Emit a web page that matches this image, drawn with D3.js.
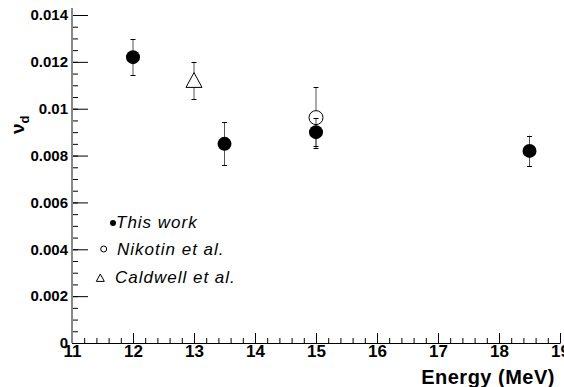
<!DOCTYPE html>
<html>
<head>
<meta charset="utf-8">
<script src="https://cdn.jsdelivr.net/npm/d3@7"></script>
<style>
  body { margin: 0; background: #fff; }
  svg { display: block; font-family: "Liberation Sans", Arial, Helvetica, sans-serif; }
  .tick text { fill: #000; font-weight: bold; }
</style>
</head>
<body>
<div id="chart"></div>
<script>
// data
var thisWorkE = [12, 13.5, 15, 18.5];
var thisWorkNu = [0.0122, 0.0085, 0.0090, 0.0082];
var thisWorkErr = [0.00076, 0.00092, 0.0006, 0.00065];

var nikotinE = [15];
var nikotinNu = [0.00962];
var nikotinErr = [0.0013];

var caldwellE = [13];
var caldwellNu = [0.0112];
var caldwellErr = [0.0008];

var xTicks = [11, 12, 13, 14, 15, 16, 17, 18, 19];
var yTicks = [0, 0.002, 0.004, 0.006, 0.008, 0.01, 0.012, 0.014];
var legendLabels = ['This work', 'Nikotin et al.', 'Caldwell et al.'];

var width = 564,
    height = 387;

var x = d3.scaleLinear().domain([11, 19]).range([72, 560]);
var y = d3.scaleLinear().domain([0, 0.014]).range([343, 15]);

var svg = d3.select('#chart').append('svg')
    .attr('width', width)
    .attr('height', height);

// minor ticks
var xMinor = d3.range(0, 41).map(function(i) { return 11 + i * 0.2; });
var yMinor = d3.range(0, 29).map(function(i) { return i * 0.0005; });

svg.append('g')
    .attr('transform', 'translate(0,' + y(0) + ')')
    .call(d3.axisBottom(x).tickValues(xMinor).tickSize(-5).tickSizeOuter(0).tickFormat(''))
    .call(function(g) { g.select('.domain').remove(); });

svg.append('g')
    .attr('transform', 'translate(' + x(11) + ',0)')
    .call(d3.axisLeft(y).tickValues(yMinor).tickSize(-6).tickSizeOuter(0).tickFormat(''))
    .call(function(g) { g.select('.domain').remove(); });

// x axis
var xAxis = svg.append('g')
    .attr('transform', 'translate(0,' + y(0) + ')')
    .call(d3.axisBottom(x).tickValues(xTicks).tickSize(-10).tickSizeOuter(0).tickPadding(2).tickFormat(d3.format('d')));
xAxis.select('.domain').attr('stroke', '#000').attr('stroke-width', 1.2);
xAxis.selectAll('.tick text').attr('font-size', 17).attr('y', 2).attr('dy', '0.71em');

// y axis
var yAxis = svg.append('g')
    .attr('transform', 'translate(' + x(11) + ',0)')
    .call(d3.axisLeft(y).tickValues(yTicks).tickSize(-16).tickSizeOuter(0).tickPadding(4)
        .tickFormat(function(d) { return d === 0 ? '0' : String(+d.toFixed(3)); }));
yAxis.select('.domain').remove();
yAxis.selectAll('.tick text').attr('font-size', 15);

svg.append('line')
    .attr('x1', x(11)).attr('x2', x(11))
    .attr('y1', y.range()[1] - 7).attr('y2', y(0))
    .attr('stroke', '#888').attr('stroke-width', 2);

// axis titles
svg.append('text')
    .attr('x', 555).attr('y', 384)
    .attr('text-anchor', 'end')
    .attr('font-size', 20)
    .attr('font-weight', 'bold')
    .attr('letter-spacing', 0.5)
    .text('Energy (MeV)');

var yTitle = svg.append('text')
    .attr('transform', 'translate(24,134) rotate(-90)')
    .attr('font-weight', 'bold');
yTitle.append('tspan').attr('font-size', 19).text('\u03bd');
yTitle.append('tspan').attr('font-size', 13).attr('dy', 5).text('d');

// data
function series(e, v, err) {
    return e.map(function(d, i) { return { e: d, v: v[i], err: err[i] }; });
}
var thisWork = series(thisWorkE, thisWorkNu, thisWorkErr);
var nikotin = series(nikotinE, nikotinNu, nikotinErr);
var caldwell = series(caldwellE, caldwellNu, caldwellErr);

function errorBars(data, gap) {
    var g = svg.append('g');
    g.selectAll('.up').data(data).enter().append('line')
        .attr('x1', function(d) { return x(d.e); })
        .attr('x2', function(d) { return x(d.e); })
        .attr('y1', function(d) { return y(d.v + d.err); })
        .attr('y2', function(d) { return y(d.v) - gap; })
        .attr('stroke', '#555');
    g.selectAll('.down').data(data).enter().append('line')
        .attr('x1', function(d) { return x(d.e); })
        .attr('x2', function(d) { return x(d.e); })
        .attr('y1', function(d) { return y(d.v) + gap; })
        .attr('y2', function(d) { return y(d.v - d.err); })
        .attr('stroke', '#555');
    [1, -1].forEach(function(s) {
        g.selectAll('.cap').data(data).enter().append('line')
            .attr('x1', function(d) { return x(d.e) - 2.5; })
            .attr('x2', function(d) { return x(d.e) + 2.5; })
            .attr('y1', function(d) { return Math.round(y(d.v + s * d.err)) + 0.5; })
            .attr('y2', function(d) { return Math.round(y(d.v + s * d.err)) + 0.5; })
            .attr('stroke', '#000');
    });
}

errorBars(caldwell, 6);
errorBars(nikotin, 7);
errorBars(thisWork, 6);

function triPath(cx, cy, s) {
    return 'M' + cx + ',' + (cy - s) + 'L' + (cx - s) + ',' + (cy + s * 0.85) + 'L' + (cx + s) + ',' + (cy + s * 0.85) + 'Z';
}

svg.append('g').selectAll('path').data(caldwell).enter().append('path')
    .attr('d', function(d) { return triPath(x(d.e), y(d.v), 8); })
    .attr('fill', '#fff').attr('stroke', '#000');

svg.append('g').selectAll('circle').data(nikotin).enter().append('circle')
    .attr('cx', function(d) { return x(d.e); })
    .attr('cy', function(d) { return y(d.v); })
    .attr('r', 7)
    .attr('fill', 'none').attr('stroke', '#000');

svg.append('g').selectAll('circle').data(thisWork).enter().append('circle')
    .attr('cx', function(d) { return x(d.e); })
    .attr('cy', function(d) { return y(d.v); })
    .attr('r', 7)
    .attr('fill', '#000');

// legend
var legend = svg.append('g');
var lgY = [228, 255, 282.5],
    lgX = [116, 117, 115];

legend.selectAll('text').data(legendLabels).enter().append('text')
    .attr('x', function(d, i) { return lgX[i]; })
    .attr('y', function(d, i) { return lgY[i]; })
    .attr('font-size', 17)
    .attr('font-style', 'italic')
    .attr('letter-spacing', 1)
    .text(function(d) { return d; });

legend.append('circle').attr('cx', 113).attr('cy', 223).attr('r', 3).attr('fill', '#000');
legend.append('circle').attr('cx', 103.7).attr('cy', 249).attr('r', 3).attr('fill', 'none').attr('stroke', '#000');
legend.append('path').attr('d', triPath(100.3, 278, 4)).attr('fill', 'none').attr('stroke', '#000');
</script>
</body>
</html>
